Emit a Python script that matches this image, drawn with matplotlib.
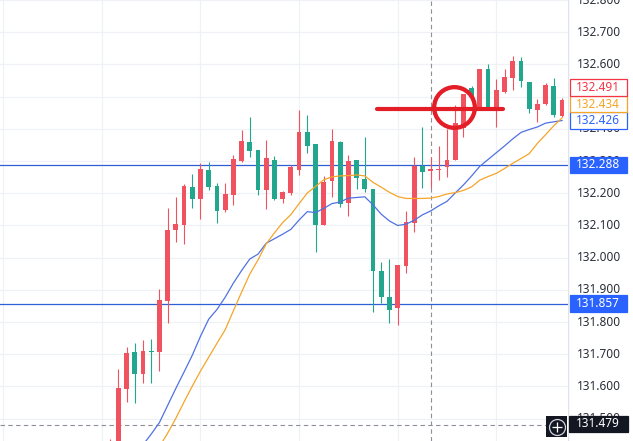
import numpy as np
import matplotlib.pyplot as plt
from matplotlib.patches import Rectangle
from matplotlib.lines import Line2D

# candles, left to right (red = up, green = down)
opens = [131.330, 131.400, 131.591, 131.707, 131.638, 131.707, 131.708, 131.866, 132.086, 132.102,
         132.219, 132.183, 132.272, 132.223, 132.148, 132.196, 132.301, 132.360, 132.334, 132.210,
         132.303, 132.182, 132.202, 132.272, 132.390, 132.353, 132.100, 132.239, 132.360, 132.171,
         132.303, 132.243, 132.214, 131.960, 131.877, 131.845, 131.975, 132.107, 132.286, 132.270,
         132.272, 132.283, 132.303, 132.402, 132.526, 132.469, 132.586, 132.457, 132.516, 132.557,
         132.611, 132.547, 132.459, 132.477, 132.533, 132.440]
highs = [131.436, 131.655, 131.722, 131.734, 131.744, 131.748, 131.902, 132.153, 132.188, 132.228,
         132.260, 132.295, 132.298, 132.231, 132.231, 132.319, 132.397, 132.438, 132.336, 132.366,
         132.316, 132.206, 132.288, 132.459, 132.442, 132.353, 132.254, 132.400, 132.363, 132.319,
         132.303, 132.376, 132.214, 131.986, 131.995, 131.976, 132.145, 132.312, 132.405, 132.312,
         132.348, 132.400, 132.474, 132.507, 132.533, 132.586, 132.602, 132.554, 132.585, 132.627,
         132.624, 132.547, 132.492, 132.542, 132.557, 132.496]
lows = [131.300, 131.350, 131.553, 131.548, 131.612, 131.610, 131.649, 131.796, 132.050, 132.042,
        132.153, 132.119, 132.210, 132.109, 132.143, 132.164, 132.298, 132.314, 132.195, 132.151,
        132.179, 132.169, 132.194, 132.257, 132.326, 132.019, 132.100, 132.189, 132.157, 132.130,
        132.213, 132.205, 131.832, 131.858, 131.796, 131.791, 131.953, 132.081, 132.216, 132.216,
        132.241, 132.252, 132.303, 132.374, 132.490, 132.469, 132.468, 132.407, 132.511, 132.521,
        132.531, 132.448, 132.422, 132.474, 132.438, 132.438]
closes = [131.425, 131.594, 131.703, 131.638, 131.710, 131.706, 131.868, 132.086, 132.105, 132.224,
          132.181, 132.275, 132.220, 132.146, 132.198, 132.307, 132.363, 132.332, 132.210, 132.310,
          132.183, 132.204, 132.281, 132.390, 132.348, 132.102, 132.235, 132.362, 132.167, 132.301,
          132.247, 132.213, 131.960, 131.877, 131.838, 131.976, 132.110, 132.286, 132.267, 132.275,
          132.276, 132.303, 132.417, 132.507, 132.500, 132.586, 132.468, 132.521, 132.560, 132.611,
          132.550, 132.461, 132.477, 132.536, 132.443, 132.491]

nan = np.nan
ma_fast = [nan, nan, nan, 131.386, 131.419, 131.452, 131.488, 131.541, 131.594, 131.645,
           131.697, 131.756, 131.809, 131.839, 131.877, 131.921, 131.960, 131.996, 132.011, 132.045,
           132.059, 132.073, 132.088, 132.117, 132.143, 132.140, 132.153, 132.168, 132.173, 132.185,
           132.187, 132.189, 132.164, 132.135, 132.114, 132.100, 132.104, 132.116, 132.133, 132.145,
           132.161, 132.175, 132.201, 132.226, 132.254, 132.284, 132.305, 132.326, 132.347, 132.369,
           132.389, 132.398, 132.406, 132.418, 132.422, 132.426]
ma_slow = [nan, nan, nan, nan, nan, 131.366, 131.413, 131.455, 131.501, 131.552,
           131.601, 131.648, 131.691, 131.734, 131.776, 131.835, 131.893, 131.949, 131.993, 132.043,
           132.077, 132.109, 132.134, 132.168, 132.201, 132.221, 132.242, 132.251, 132.254, 132.255,
           132.257, 132.254, 132.234, 132.219, 132.203, 132.190, 132.184, 132.184, 132.184, 132.185,
           132.190, 132.198, 132.202, 132.209, 132.220, 132.241, 132.252, 132.262, 132.277, 132.293,
           132.308, 132.323, 132.355, 132.382, 132.410, 132.434]

price_ticks = [131.5, 131.6, 131.7, 131.8, 131.9, 132.0, 132.1, 132.2, 132.3, 132.4, 132.5, 132.6, 132.7, 132.8]
grid_bars = [-13, -1, 11, 23, 35, 47]
level_hi = 132.288
level_lo = 131.857
cross_price = 131.479
cross_bar = 39
mark_price = 132.463
mark_from, mark_to = 32.45, 47.85
circle_bar, circle_price = 41.82, 132.468

RED = '#f0525f'
GREEN = '#22a68d'
BLUE = '#2962ff'
LINE_BLUE = '#2f5fd4'
MA_BLUE = '#4f72e3'
MA_ORANGE = '#f5a529'
GRID = '#eff1f6'
TXT = '#2a2e39'
FONT = 'Noto Sans'

W, H = 633, 441
plot_w = 568
step = 8.217      # pixels per bar
first_x = 110.1   # pixel of first bar
ppu = 322.0       # pixels per 1.0 of price

fig = plt.figure(figsize=(W / 100, H / 100), dpi=100)
ax = fig.add_axes([0, 0, plot_w / W, 1])
sc = fig.add_axes([plot_w / W, 0, (W - plot_w) / W, 1])

xmin = -first_x / step
ax.set_xlim(xmin, xmin + plot_w / step)
ymax = 132.7 + 32.3 / ppu
ymin = ymax - H / ppu
ax.set_ylim(ymin, ymax)
for s in ax.spines.values():
    s.set_visible(False)
ax.set_xticks([])
ax.set_yticks([])

# grid
for p in price_ticks:
    ax.axhline(p, color=GRID, lw=0.9, zorder=0)
for g in grid_bars:
    ax.axvline(g, color=GRID, lw=0.9, zorder=0)

# horizontal levels
ax.axhline(level_hi, color=LINE_BLUE, lw=0.9, zorder=2)
ax.axhline(level_lo, color=LINE_BLUE, lw=0.9, zorder=2)

# crosshair
ax.axvline(cross_bar, color='#8d9099', lw=0.8, ls=(0, (4, 3)), zorder=1)
ax.axhline(cross_price, color='#8d9099', lw=0.8, ls=(0, (4, 3)), zorder=1)

# candles
idx = np.arange(len(opens))
o = np.array(opens)
c = np.array(closes)
cols = np.where(c >= o, RED, GREEN)
ax.vlines(idx, lows, highs, colors=cols, lw=0.8, zorder=3)
body = np.maximum(np.abs(c - o), 0.004)
ax.bar(idx, body, bottom=np.minimum(o, c), width=0.58, color=cols, linewidth=0, zorder=4)

# moving averages
ax.plot(idx, ma_fast, color=MA_BLUE, lw=0.9, zorder=5)
ax.plot(idx, ma_slow, color=MA_ORANGE, lw=0.9, zorder=5)

# hand drawn mark
ax.plot([mark_from, mark_to], [mark_price, mark_price], color='#e31e27', lw=3.0,
        solid_capstyle='round', zorder=7)
ax.plot([circle_bar], [circle_price], 'o', ms=29.3, mfc='none', mec='#e31e27', mew=3.1, zorder=7)

# price scale
sc.set_xlim(0, W - plot_w)
sc.set_ylim(ymin, ymax)
sc.axis('off')
sc.axvline(0.4, color='#e0e3eb', lw=1)
for p in price_ticks:
    sc.text(31, p, f'{p:.3f}', ha='center', va='center', fontsize=8.5, color=TXT, family=FONT, zorder=1)

tag_h = 16.5 / ppu


def tag(y, text, face, edge, tcol, x0=1.5, w=57.5):
    sc.add_patch(Rectangle((x0, y - tag_h / 2), w, tag_h, facecolor=face, edgecolor=edge,
                           lw=0.9, zorder=3))
    sc.text(x0 + w / 2, y, text, ha='center', va='center', fontsize=8.5, color=tcol,
            family=FONT, zorder=4)


tag(ma_fast[-1], f'{ma_fast[-1]:.3f}', 'white', BLUE, BLUE)
tag(ma_fast[-1] + tag_h, f'{ma_slow[-1]:.3f}', 'white', MA_ORANGE, MA_ORANGE)
tag(ma_fast[-1] + 2 * tag_h, f'{closes[-1]:.3f}', 'white', '#f23645', '#f23645')
tag(level_hi, f'{level_hi:.3f}', BLUE, BLUE, 'white')
tag(level_lo, f'{level_lo:.3f}', BLUE, BLUE, 'white')
tag(cross_price + 0.005, f'{cross_price:.3f}', '#131722', '#131722', 'white', x0=0.5, w=59)

# zoom button
fig.add_artist(Rectangle((546 / W, 1 - 437 / H), 21 / W, 21 / H, transform=fig.transFigure,
                         facecolor='#131722', edgecolor='none', zorder=10))
bx, by = 556.5 / W, 1 - 426.5 / H
fig.add_artist(Line2D([bx], [by], transform=fig.transFigure, marker='o', ms=11.5,
                      mfc='none', mec='#d1d4dc', mew=0.9, zorder=11))
fig.add_artist(Line2D([bx], [by], transform=fig.transFigure, marker='+', ms=6.5,
                      mec='white', mew=0.9, zorder=11))

fig.savefig('out.png', dpi=100)
